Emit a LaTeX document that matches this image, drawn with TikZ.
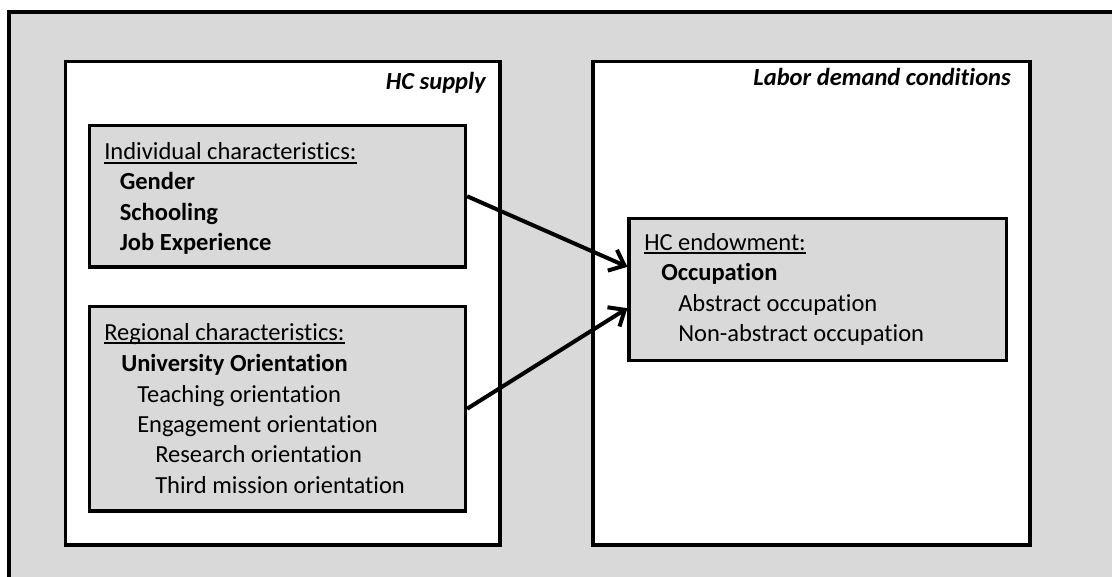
\documentclass[tikz,border=0pt]{standalone}
\usepackage{fontspec}
\setmainfont{Carlito}[Ligatures=NoCommon]
\usetikzlibrary{arrows.meta,fit}

\definecolor{panelgray}{HTML}{D9D9D9}
\newcommand{\undl}[1]{\setbox0\hbox{#1}\rlap{\rule[-3pt]{\wd0}{1.4pt}}\box0}

\begin{document}
\begin{tikzpicture}[
  x=0.75pt, y=-0.75pt,
  >={Straight Barb[length=10pt,width=17pt]},
  frame/.style={draw, line width=2.4pt, inner sep=0pt},
  outerbox/.style={frame, fill=white},
  innerbox/.style={frame, fill=panelgray},
  txt/.style={font=\fontsize{18.4}{22}\selectfont, inner sep=0pt, anchor=base west},
  caption/.style={font=\fontsize{18.4}{22}\selectfont\bfseries\itshape, inner sep=0pt, anchor=base east},
  flow/.style={->, line width=3pt},
]

\useasboundingbox (0,0) rectangle (1112,577);
\clip (0,0) rectangle (1112,577);

% Background panel, runs off right and bottom
\draw[line width=2.4pt, fill=panelgray] (9,12) rectangle (1130,600);

% HC supply side
\node[outerbox, fit={(65.5,61.5) (500,545)}] (supply) {};
\node[caption] (supplylab) at (486,90) {HC supply};

\node[innerbox, fit={(89.5,125.5) (465.5,267)}] (indiv) {};
\node[txt] (indivlab) at (104,160) {\undl{Individual characteristics:}};
\node[txt] (gender) at (119.5,190) {\textbf{Gender}};
\node[txt] (school) at (119.5,220) {\textbf{Schooling}};
\node[txt] (jobexp) at (119.5,250) {\textbf{Job Experience}};

\node[innerbox, fit={(89.5,306.5) (465.5,511)}] (regional) {};
\node[txt] (reglab) at (104,340) {\undl{Regional characteristics:}};
\node[txt] (uniori) at (121,371) {\textbf{University Orientation}};
\node[txt] (teach) at (137,402) {Teaching orientation};
\node[txt] (engage) at (137,432) {Engagement orientation};
\node[txt] (research) at (155,462) {Research orientation};
\node[txt] (third) at (155,493) {Third mission orientation};

% Labor demand side
\node[outerbox, fit={(593,61.5) (1030,545)}] (labor) {};
\node[caption] (laborlab) at (1011,86) {Labor demand conditions};

\node[innerbox, fit={(629,218.5) (1006.5,360.5)}] (endow) {};
\node[txt] (endowlab) at (644,250) {\undl{HC endowment:}};
\node[txt] (occup) at (661,280) {\textbf{Occupation}};
\node[txt] (abstr) at (678,311) {Abstract occupation};
\node[txt] (nonabstr) at (678,341) {Non-abstract occupation};

% Arrows
\draw[flow] (indiv.east) -- ([yshift=17pt]endow.west);
\draw[flow] (regional.east) -- ([yshift=-14pt]endow.west);

\end{tikzpicture}
\end{document}
